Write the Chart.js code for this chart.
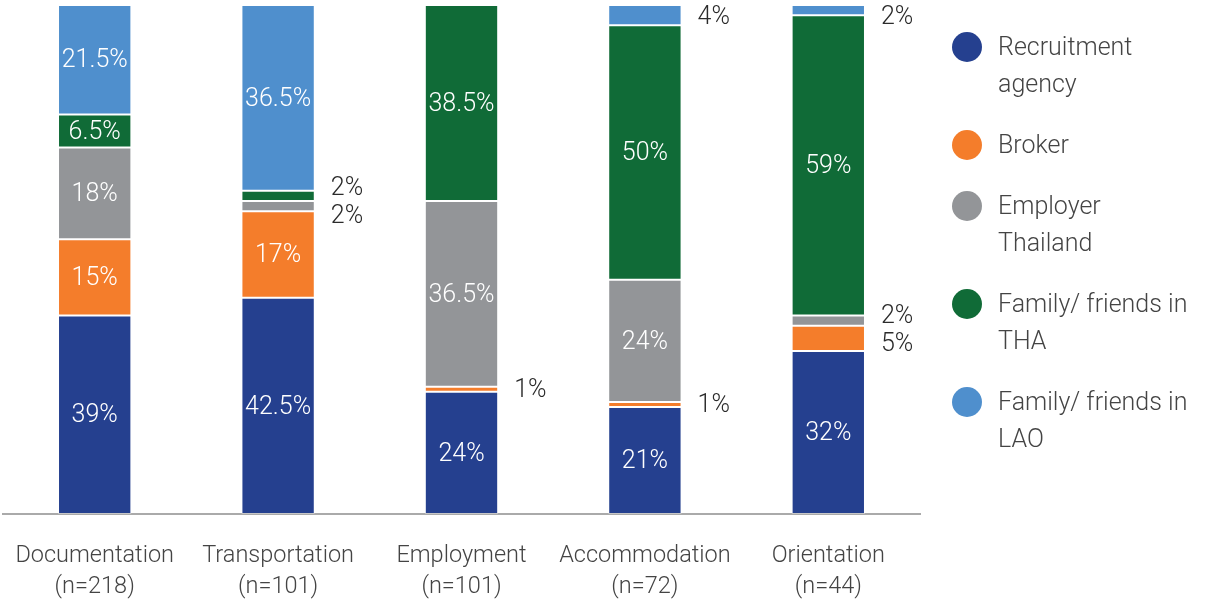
<!DOCTYPE html>
<html>
<head>
<meta charset="utf-8">
<script src="https://cdn.jsdelivr.net/npm/chart.js@4/dist/chart.umd.min.js"></script>
<style>
  html, body { margin: 0; padding: 0; background: #fff; }
  #wrap { position: relative; width: 1212px; height: 601px; }
</style>
</head>
<body>
<div id="wrap"><canvas id="chart"></canvas></div>
<script>
const FONT = "'Roboto', 'Liberation Sans', sans-serif";

const categories = [
  ["Documentation", "(n=218)"],
  ["Transportation", "(n=101)"],
  ["Employment", "(n=101)"],
  ["Accommodation", "(n=72)"],
  ["Orientation", "(n=44)"],
];

const recruitment = [39, 42.5, 24, 21, 32];
const broker = [15, 17, 1, 1, 5];
const employer = [18, 2, 36.5, 24, 2];
const familyTha = [6.5, 2, 38.5, 50, 59];
const familyLao = [21.5, 36.5, 0, 4, 2];

const seriesNames = [
  ["Recruitment", "agency"],
  ["Broker"],
  ["Employer", "Thailand"],
  ["Family/ friends in", "THA"],
  ["Family/ friends in", "LAO"],
];
const colors = ["#25408f", "#f47d2b", "#939598", "#106b37", "#4f8fcd"];

function el(id) {
  return document.getElementById(id);
}

// values: inside the bar when big enough, otherwise beside it on the right
const valueLabels = {
  id: "valueLabels",
  afterDatasetsDraw(chart) {
    const ctx = chart.ctx;
    ctx.save();
    ctx.font = "300 25px " + FONT;
    ctx.textBaseline = "middle";
    chart.data.labels.forEach((_, i) => {
      const outside = [];
      let barRight = 0;
      chart.data.datasets.forEach((ds, d) => {
        const v = ds.data[i];
        if (!v) return;
        const bar = chart.getDatasetMeta(d).data[i];
        const cy = (bar.y + bar.base) / 2 + 1.5;
        barRight = bar.x + bar.width / 2;
        if (v > 5) {
          ctx.fillStyle = "#fff";
          ctx.textAlign = "center";
          ctx.fillText(v + "%", bar.x, cy);
        } else {
          outside.push({ y: cy, text: v + "%" });
        }
      });
      outside.sort((a, b) => a.y - b.y);
      for (let k = 1; k < outside.length; k++) {
        const gap = 28;
        if (outside[k].y - outside[k - 1].y < gap) {
          const mid = (outside[k].y + outside[k - 1].y) / 2;
          outside[k - 1].y = mid - gap / 2;
          outside[k].y = mid + gap / 2;
        }
      }
      ctx.fillStyle = "#2b2b2b";
      ctx.textAlign = "left";
      outside.forEach((o) => {
        ctx.fillText(o.text, barRight + 16, Math.max(o.y, 18));
      });
    });
    ctx.restore();
  },
};

const sideLegend = {
  id: "sideLegend",
  afterDraw(chart) {
    const ctx = chart.ctx;
    ctx.save();
    ctx.font = "300 25px " + FONT;
    ctx.textBaseline = "middle";
    ctx.textAlign = "left";
    let y = 47;
    seriesNames.forEach((lines, i) => {
      ctx.fillStyle = colors[i];
      ctx.beginPath();
      ctx.arc(967, y, 15, 0, Math.PI * 2);
      ctx.fill();
      ctx.fillStyle = "#444";
      lines.forEach((t, k) => ctx.fillText(t, 998, y + 2 + k * 37));
      y += lines.length * 37 + 24;
    });
    ctx.restore();
  },
};

function initChart() {
  const all = [recruitment, broker, employer, familyTha, familyLao];
  new Chart(el("chart").getContext("2d"), {
    type: "bar",
    data: {
      labels: categories,
      datasets: all.map((data, i) => ({
        label: seriesNames[i].join(" "),
        data,
        backgroundColor: colors[i],
        borderColor: "rgba(255,255,255,0.35)",
        borderWidth: 1,
        borderSkipped: false,
        categoryPercentage: 1,
        barPercentage: 0.4,
      })),
    },
    options: {
      responsive: true,
      maintainAspectRatio: false,
      animation: false,
      layout: { padding: { left: 3, right: 292, top: 5, bottom: 0 } },
      scales: {
        x: {
          stacked: true,
          grid: { display: false },
          border: { display: true, color: "#aaa", width: 2 },
          ticks: {
            color: "#444",
            padding: 19,
            font: { family: FONT, size: 23.5, weight: 300, lineHeight: 1.32 },
            maxRotation: 0,
          },
          afterFit: (s) => {
            s.height = 87;
            s.paddingLeft = 0;
            s.paddingRight = 0;
          },
        },
        y: { stacked: true, min: 0, max: 100, display: false },
      },
      plugins: {
        legend: { display: false },
        tooltip: { enabled: false },
      },
    },
    plugins: [valueLabels, sideLegend],
  });
}

initChart();
</script>
</body>
</html>
